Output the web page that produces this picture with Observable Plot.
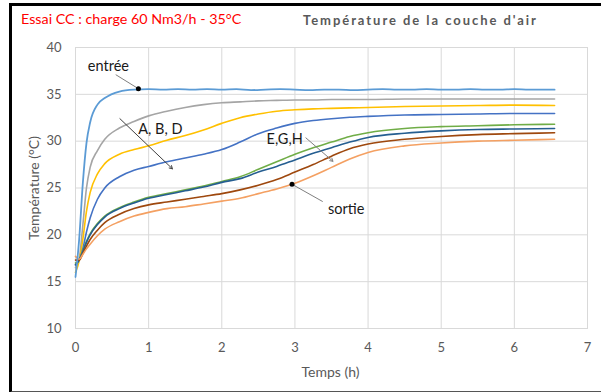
<!DOCTYPE html>
<html><head><meta charset="utf-8">
<script src="https://cdn.jsdelivr.net/npm/d3@7"></script>
<script src="https://cdn.jsdelivr.net/npm/@observablehq/plot@0.6"></script>
<style>
body{margin:0;background:#fff;font-family:Lato,"Open Sans",sans-serif;}
#wrap{position:relative;width:601px;height:392px;overflow:hidden;}
#frame{position:absolute;left:9px;top:3px;width:600px;height:385px;border-left:3px solid #000;border-top:3px solid #000;border-bottom:2px solid #555;box-sizing:content-box;pointer-events:none;}
#t1{position:absolute;left:21px;top:10px;color:#ff0000;font-size:14.3px;white-space:nowrap;}
#t2{position:absolute;left:303px;top:12px;color:#595959;font-size:13px;font-weight:bold;letter-spacing:1.95px;white-space:nowrap;}
#xl{position:absolute;left:0;width:661px;top:363px;text-align:center;color:#595959;font-size:14px;white-space:nowrap;}
#yl{position:absolute;left:33px;top:188px;color:#595959;font-size:14px;white-space:nowrap;transform:translate(-50%,-50%) rotate(-90deg);}
</style></head>
<body>
<div id="wrap">
<div id="chart"></div>
<div id="t1">Essai CC : charge 60 Nm3/h - 35°C</div>
<div id="t2">Température de la couche d'air</div>
<div id="xl">Temps (h)</div>
<div id="yl">Température (°C)</div>
<div id="frame"></div>
</div>
<script>
// time grid (h)
const hours = [0, 0.05, 0.1, 0.15, 0.2, 0.3, 0.4, 0.6, 0.8, 1, 1.25, 1.5, 1.75, 2, 2.25, 2.5, 2.75, 3, 3.25, 3.5, 3.75, 4, 4.5, 5, 5.5, 6, 6.55];
const gris   = [16.5, 17.4, 21.0, 25.0, 27.2, 29.0, 30.2, 31.4, 32.1, 32.7, 33.2, 33.6, 33.9, 34.1, 34.2, 34.3, 34.35, 34.4, 34.4, 34.45, 34.45, 34.45, 34.5, 34.5, 34.5, 34.5, 34.5];
const jaune  = [16.0, 17.2, 19.5, 22.5, 24.5, 26.5, 27.6, 28.6, 29.1, 29.5, 30.1, 30.6, 31.2, 31.9, 32.5, 32.9, 33.2, 33.35, 33.45, 33.5, 33.55, 33.6, 33.7, 33.75, 33.8, 33.85, 33.8];
const bleu   = [16.8, 17.3, 18.5, 20.3, 21.8, 23.8, 25.0, 26.2, 26.9, 27.3, 27.8, 28.2, 28.6, 29.1, 29.9, 30.8, 31.4, 31.9, 32.2, 32.4, 32.55, 32.65, 32.8, 32.85, 32.9, 32.95, 32.95];
const vert   = [17.0, 17.3, 18.3, 19.3, 20.1, 21.2, 22.0, 22.9, 23.5, 24.0, 24.4, 24.8, 25.2, 25.7, 26.2, 27.0, 27.8, 28.6, 29.3, 29.9, 30.5, 30.9, 31.35, 31.55, 31.65, 31.75, 31.8];
const bleuF  = [16.8, 17.3, 18.2, 19.2, 20.0, 21.1, 21.9, 22.8, 23.4, 23.9, 24.3, 24.7, 25.1, 25.6, 26.0, 26.7, 27.3, 28.0, 28.7, 29.3, 29.9, 30.4, 30.85, 31.1, 31.25, 31.3, 31.35];
const brun   = [17.3, 17.3, 18.0, 18.8, 19.5, 20.5, 21.3, 22.2, 22.8, 23.2, 23.5, 23.8, 24.1, 24.4, 24.8, 25.3, 25.9, 26.7, 27.5, 28.4, 29.2, 29.7, 30.2, 30.5, 30.7, 30.8, 30.9];
const orange = [17.7, 17.4, 17.9, 18.5, 19.0, 19.9, 20.6, 21.4, 22.0, 22.4, 22.8, 23.0, 23.3, 23.6, 23.9, 24.4, 24.9, 25.5, 26.3, 27.2, 28.1, 28.8, 29.5, 29.8, 30.0, 30.1, 30.2];
// inlet curve, finer grid
const hoursEntree = [0, 0.05, 0.1, 0.15, 0.2, 0.3, 0.4, 0.6, 0.8, 1, 1.2, 1.4, 1.6, 1.8, 2, 2.2, 2.4, 2.6, 2.8, 3, 3.2, 3.4, 3.6, 3.8, 4, 4.2, 4.4, 4.6, 4.8, 5, 5.2, 5.4, 5.6, 5.8, 6, 6.2, 6.4, 6.55];
const entree = [15.5, 19.5, 25.5, 29.8, 32.0, 33.9, 34.6, 35.3, 35.5, 35.55, 35.5, 35.55, 35.5, 35.55, 35.5, 35.55, 35.45, 35.5, 35.55, 35.5, 35.45, 35.5, 35.5, 35.45, 35.5, 35.55, 35.5, 35.5, 35.55, 35.5, 35.5, 35.55, 35.5, 35.5, 35.55, 35.5, 35.5, 35.5];

const seriesNames  = ["gris", "jaune", "bleu", "vert", "bleuF", "brun", "orange"];
const seriesValues = [gris, jaune, bleu, vert, bleuF, brun, orange];
const seriesColors = ["#a5a5a5", "#ffc000", "#4472c4", "#70ad47", "#255e91", "#9e480e", "#f4a062"];

const xTicks = [0, 1, 2, 3, 4, 5, 6, 7];
const yTicks = [10, 15, 20, 25, 30, 35, 40];

// annotations
const labels = [
  {x: 0.45, y: 38.0, text: "entrée"},
  {x: 1.16, y: 31.25, text: "A, B, D"},
  {x: 2.86, y: 30.2, text: "E,G,H"},
  {x: 3.70, y: 22.7, text: "sortie"}
];
const leaders = [
  {x1: 0.55, y1: 37.1, x2: 0.86, y2: 35.6},
  {x1: 3.38, y1: 23.55, x2: 2.96, y2: 25.4}
];
const dotsAnn = [{x: 0.86, y: 35.6}, {x: 2.96, y: 25.4}];
const arrows = [
  {x1: 0.607, y1: 32.4, x2: 1.325, y2: 27.05, c: "#404040"},
  {x1: 3.15, y1: 30.35, x2: 3.52, y2: 27.85, c: "#7f7f7f"}
];

const rows = [];
seriesNames.forEach((n, i) => hours.forEach((h, j) => rows.push({s: n, h, v: seriesValues[i][j]})));
const rowsE = hoursEntree.map((h, j) => ({h, v: entree[j]}));

const chart = Plot.plot({
  width: 601, height: 392,
  marginLeft: 75, marginRight: 14, marginTop: 47, marginBottom: 64,
  style: {fontFamily: "Lato, 'Open Sans', sans-serif", fontSize: "13px", color: "#595959", background: "transparent"},
  x: {domain: [0, 7], ticks: xTicks, tickFormat: d => String(d), tickSize: 0, tickPadding: 14, label: null},
  y: {domain: [10, 40], ticks: yTicks, tickFormat: d => String(d), tickSize: 0, tickPadding: 14, label: null},
  color: {domain: seriesNames, range: seriesColors},
  marks: [
    Plot.gridX(xTicks, {stroke: "#d9d9d9", strokeOpacity: 1}),
    Plot.gridY(yTicks, {stroke: "#d9d9d9", strokeOpacity: 1}),
    Plot.frame({stroke: "#d9d9d9"}),
    Plot.lineY(rows, {x: "h", y: "v", z: "s", stroke: "s", strokeWidth: 1.6, curve: "monotone-x"}),
    Plot.lineY(rowsE, {x: "h", y: "v", stroke: "#5b9bd5", strokeWidth: 1.8, curve: "monotone-x"}),
    Plot.link(leaders, {x1: "x1", y1: "y1", x2: "x2", y2: "y2", stroke: "#7f7f7f", strokeWidth: 1}),
    Plot.arrow(arrows, {x1: "x1", y1: "y1", x2: "x2", y2: "y2", stroke: "c", strokeWidth: 1, headLength: 5, insetEnd: 0}),
    Plot.dot(dotsAnn, {x: "x", y: "y", r: 2.5, fill: "#000"}),
    Plot.text(labels, {x: "x", y: "y", text: "text", fill: "#1a1a1a", fontSize: 14.5})
  ]
});
document.getElementById("chart").appendChild(chart);
</script>
</body></html>
